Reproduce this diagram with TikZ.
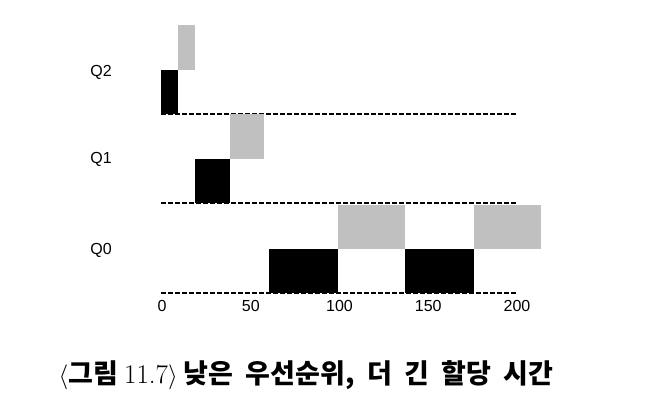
\documentclass[tikz,border=0pt]{standalone}
\usepackage{fontspec}
\setmainfont{Liberation Sans}
\newfontfamily\krfont{Noto Sans CJK KR}
\usepackage{xcolor}
\definecolor{slicegray}{RGB}{192,192,192}

\begin{document}
\begin{tikzpicture}[x=1pt, y=-1pt, font=\fontsize{16}{19}\selectfont]
\useasboundingbox (0, 0) rectangle (664, 400);
% queue base lines
\draw [dashed, dash pattern=on 4.5pt off 2.5pt, line width=1.4pt] (161, 114) -- (518, 114);
\draw [dashed, dash pattern=on 4.5pt off 2.5pt, line width=1.4pt] (161, 203) -- (518, 203);
\draw [dashed, dash pattern=on 4.5pt off 2.5pt, line width=1.4pt] (161, 293) -- (518, 293);
% Q2
\fill [black] (161, 70) rectangle (178, 114);
\fill [slicegray] (178, 25) rectangle (195, 70);
% Q1
\fill [black] (195, 159) rectangle (230, 203);
\fill [slicegray] (230, 114) rectangle (264, 159);
% Q0
\fill [black] (269, 249) rectangle (338, 293);
\fill [slicegray] (338, 205) rectangle (405, 249);
\fill [black] (405, 249) rectangle (474, 293);
\fill [slicegray] (474, 205) rectangle (541, 249);
% labels
\node (q2) at (101, 72) {Q2};
\node (q1) at (101, 159) {Q1};
\node (q0) at (101, 250) {Q0};
\foreach \t in {0, 50, 100, 150, 200}
  \node (tick\t) at (162 + 1.775*\t, 306) {\t};
\node (caption) at (306, 375) {\fontsize{27}{32}\selectfont$\langle$\krfont\bfseries 그림 \textmd{\fontspec{Latin Modern Roman}11.7}$\rangle$\ 낮은\ \ 우선순위,\ \ 더\ \ 긴\ \ 할당\ \ 시간};
\end{tikzpicture}
\end{document}
